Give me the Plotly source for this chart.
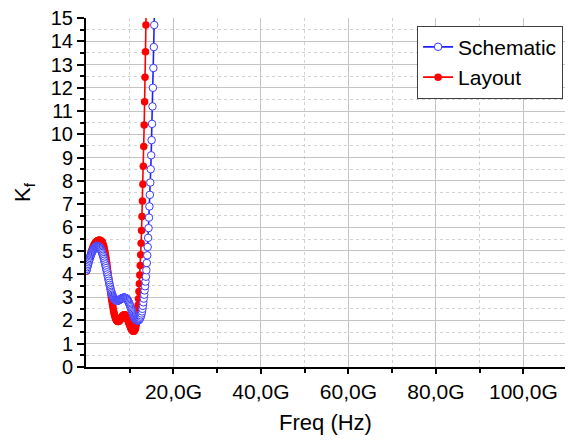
import plotly.graph_objects as go

# Stability factor Kf versus frequency (GHz sweep, 0.1 GHz step)
SCHEM_FREQ_GHZ = [
    0.1, 0.2, 0.3, 0.4, 0.5, 0.6, 0.7, 0.8, 0.9, 1.0, 1.1, 1.2, 1.3, 1.4, 1.5, 1.6, 1.7, 1.8, 1.9, 2.0,
    2.1, 2.2, 2.3, 2.4, 2.5, 2.6, 2.7, 2.8, 2.9, 3.0, 3.1, 3.2, 3.3, 3.4, 3.5, 3.6, 3.7, 3.8, 3.9, 4.0,
    4.1, 4.2, 4.3, 4.4, 4.5, 4.6, 4.7, 4.8, 4.9, 5.0, 5.1, 5.2, 5.3, 5.4, 5.5, 5.6, 5.7, 5.8, 5.9, 6.0,
    6.1, 6.2, 6.3, 6.4, 6.5, 6.6, 6.7, 6.8, 6.9, 7.0, 7.1, 7.2, 7.3, 7.4, 7.5, 7.6, 7.7, 7.8, 7.9, 8.0,
    8.1, 8.2, 8.3, 8.4, 8.5, 8.6, 8.7, 8.8, 8.9, 9.0, 9.1, 9.2, 9.3, 9.4, 9.5, 9.6, 9.7, 9.8, 9.9, 10.0,
    10.1, 10.2, 10.3, 10.4, 10.5, 10.6, 10.7, 10.8, 10.9, 11.0, 11.1, 11.2, 11.3, 11.4, 11.5, 11.6, 11.7,
    11.8, 11.9, 12.0, 12.1, 12.2, 12.3, 12.4, 12.5, 12.6, 12.7, 12.8, 12.9, 13.0, 13.1, 13.2, 13.3, 13.4,
    13.5, 13.6, 13.7, 13.8, 13.9, 14.0, 14.1, 14.2, 14.3, 14.4, 14.5, 14.6, 14.7, 14.8, 14.9, 15.0, 15.1,
    15.2, 15.3, 15.4, 15.5, 15.6, 15.7,
]
SCHEM_KF = [
    4.15, 4.22, 4.29, 4.36, 4.43, 4.50, 4.57, 4.63, 4.69, 4.75, 4.80, 4.85, 4.90, 4.94, 4.98, 5.02, 5.05, 5.08, 5.11, 5.13,
    5.15, 5.17, 5.18, 5.19, 5.20, 5.20, 5.20, 5.19, 5.18, 5.16, 5.14, 5.11, 5.08, 5.04, 5.00, 4.95, 4.90, 4.84, 4.78, 4.71,
    4.64, 4.57, 4.49, 4.41, 4.33, 4.25, 4.16, 4.07, 3.98, 3.89, 3.80, 3.71, 3.62, 3.53, 3.45, 3.37, 3.30, 3.23, 3.17, 3.11,
    3.06, 3.02, 2.98, 2.95, 2.92, 2.90, 2.88, 2.87, 2.86, 2.85, 2.85, 2.85, 2.85, 2.86, 2.87, 2.88, 2.89, 2.90, 2.92, 2.93,
    2.94, 2.95, 2.96, 2.97, 2.97, 2.98, 2.98, 2.98, 2.98, 2.97, 2.96, 2.95, 2.93, 2.91, 2.88, 2.85, 2.81, 2.77, 2.72, 2.67,
    2.62, 2.57, 2.51, 2.46, 2.40, 2.35, 2.30, 2.25, 2.20, 2.16, 2.12, 2.09, 2.06, 2.04, 2.02, 2.01, 2.00,
    2.00, 2.00, 2.01, 2.02, 2.04, 2.07, 2.11, 2.16, 2.22, 2.30, 2.39, 2.50, 2.63, 2.78, 2.94, 3.11, 3.29,
    3.47, 3.67, 3.88, 4.16, 4.47, 4.80, 5.16, 5.55, 5.97, 6.42, 6.90, 7.40, 7.93, 8.50, 9.10, 9.75, 10.45,
    11.20, 12.00, 12.85, 13.75, 14.70, 15.70,
]

LAYOUT_FREQ_GHZ = [
    0.1, 0.2, 0.3, 0.4, 0.5, 0.6, 0.7, 0.8, 0.9, 1.0, 1.1, 1.2, 1.3, 1.4, 1.5, 1.6, 1.7, 1.8, 1.9, 2.0,
    2.1, 2.2, 2.3, 2.4, 2.5, 2.6, 2.7, 2.8, 2.9, 3.0, 3.1, 3.2, 3.3, 3.4, 3.5, 3.6, 3.7, 3.8, 3.9, 4.0,
    4.1, 4.2, 4.3, 4.4, 4.5, 4.6, 4.7, 4.8, 4.9, 5.0, 5.1, 5.2, 5.3, 5.4, 5.5, 5.6, 5.7, 5.8, 5.9, 6.0,
    6.1, 6.2, 6.3, 6.4, 6.5, 6.6, 6.7, 6.8, 6.9, 7.0, 7.1, 7.2, 7.3, 7.4, 7.5, 7.6, 7.7, 7.8, 7.9, 8.0,
    8.1, 8.2, 8.3, 8.4, 8.5, 8.6, 8.7, 8.8, 8.9, 9.0, 9.1, 9.2, 9.3, 9.4, 9.5, 9.6, 9.7, 9.8, 9.9, 10.0,
    10.1, 10.2, 10.3, 10.4, 10.5, 10.6, 10.7, 10.8, 10.9, 11.0, 11.1, 11.2, 11.3, 11.4, 11.5, 11.6, 11.7,
    11.8, 11.9, 12.0, 12.1, 12.2, 12.3, 12.4, 12.5, 12.6, 12.7, 12.8, 12.9, 13.0, 13.1, 13.2, 13.3, 13.4,
    13.5, 13.6, 13.7, 13.8,
]
LAYOUT_KF = [
    4.12, 4.20, 4.28, 4.36, 4.44, 4.52, 4.60, 4.67, 4.74, 4.81, 4.87, 4.93, 4.99, 5.04, 5.09, 5.14, 5.18, 5.22, 5.26, 5.29,
    5.32, 5.35, 5.37, 5.39, 5.41, 5.42, 5.43, 5.44, 5.45, 5.45, 5.45, 5.45, 5.44, 5.43, 5.41, 5.39, 5.36, 5.32, 5.27, 5.21,
    5.14, 5.06, 4.97, 4.87, 4.76, 4.64, 4.51, 4.38, 4.24, 4.10, 3.96, 3.82, 3.68, 3.54, 3.40, 3.26, 3.13, 3.00, 2.87, 2.75,
    2.63, 2.52, 2.42, 2.33, 2.25, 2.18, 2.12, 2.07, 2.03, 2.00, 1.98, 1.97, 1.96, 1.96, 1.97, 1.98, 2.00, 2.03, 2.06, 2.09,
    2.12, 2.15, 2.18, 2.20, 2.22, 2.23, 2.24, 2.24, 2.24, 2.23, 2.21, 2.18, 2.14, 2.10, 2.05, 2.00, 1.95, 1.90, 1.85, 1.80,
    1.75, 1.70, 1.66, 1.62, 1.59, 1.57, 1.55, 1.54, 1.54, 1.55, 1.57, 1.61, 1.67, 1.75, 1.86, 2.00, 2.18,
    2.40, 2.65, 2.93, 3.24, 3.58, 3.95, 4.36, 4.82, 5.32, 5.87, 6.47, 7.13, 7.85, 8.63, 9.48, 10.40, 11.40,
    12.45, 13.55, 14.70, 15.90,
]

X_TICK_GHZ = [20, 40, 60, 80, 100]
X_TICK_TEXT = ["20,0G", "40,0G", "60,0G", "80,0G", "100,0G"]
Y_TICKS = list(range(0, 16))

FONT = "Liberation Sans, Arial, sans-serif"

fig = go.Figure()

fig.add_trace(go.Scatter(
    x=[f * 1e9 for f in LAYOUT_FREQ_GHZ], y=LAYOUT_KF,
    mode="lines+markers", name="Layout",
    line=dict(color="#ff0000", width=1.6),
    marker=dict(symbol="circle", size=7.5, color="#ff0000",
                line=dict(color="#ff0000", width=0)),
))
fig.add_trace(go.Scatter(
    x=[f * 1e9 for f in SCHEM_FREQ_GHZ], y=SCHEM_KF,
    mode="lines+markers", name="Schematic",
    line=dict(color="#2020ff", width=1.6),
    marker=dict(symbol="circle", size=7.5, color="white",
                line=dict(color="#3a3aff", width=1)),
))

fig.update_layout(
    width=572, height=443,
    margin=dict(l=86, r=7, t=15, b=76),
    paper_bgcolor="white", plot_bgcolor="white",
    font=dict(family=FONT, size=20, color="black"),
    showlegend=True,
    legend=dict(
        x=0.996, y=0.978, xanchor="right", yanchor="top",
        traceorder="reversed",
        bgcolor="white", bordercolor="#404040", borderwidth=1,
        font=dict(family=FONT, size=21, color="black"),
        tracegroupgap=0,
    ),
)

fig.update_xaxes(
    range=[0, 109.5e9],
    tickmode="array",
    tickvals=[v * 1e9 for v in X_TICK_GHZ], ticktext=X_TICK_TEXT,
    ticks="outside", ticklen=5, tickwidth=1.5, tickcolor="black",
    showline=True, linecolor="black", linewidth=2,
    showgrid=True, gridcolor="#c4c4c4", gridwidth=1,
    zeroline=False,
    tickfont=dict(family=FONT, size=21),
    title=dict(text="Freq (Hz)", font=dict(family=FONT, size=22), standoff=12),
    minor=dict(tickmode="array", tickvals=[v * 1e9 for v in [10, 30, 50, 70, 90]],
               ticks="outside", ticklen=4, tickwidth=1.5, tickcolor="black",
               showgrid=True, gridcolor="#d2d2d2", griddash="3px,3px", gridwidth=1),
)

fig.update_yaxes(
    range=[0, 15],
    tickmode="array", tickvals=Y_TICKS,
    ticks="outside", ticklen=7, tickwidth=1.5, tickcolor="black",
    showline=True, linecolor="black", linewidth=2,
    showgrid=True, gridcolor="#c4c4c4", gridwidth=1,
    zeroline=False,
    tickfont=dict(family=FONT, size=20),
    title=dict(text="K<sub>f</sub>", font=dict(family=FONT, size=22), standoff=14),
    minor=dict(dtick=0.5, ticks="outside", ticklen=4, tickwidth=1.5, tickcolor="black",
               showgrid=True, gridcolor="#d2d2d2", griddash="3px,3px", gridwidth=1),
)

fig.write_html("out.html")
